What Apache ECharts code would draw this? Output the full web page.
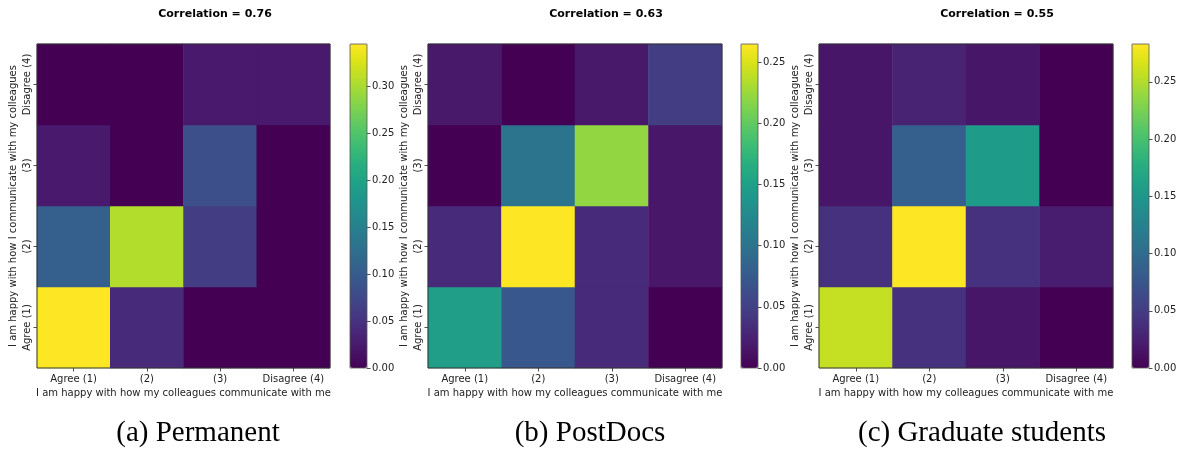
<!DOCTYPE html>
<html>
<head>
<meta charset="utf-8">
<script src="https://cdn.jsdelivr.net/npm/echarts@6/dist/echarts.min.js"></script>
<style>
html,body{margin:0;padding:0;background:#fff;}
#chart{width:1180px;height:450px;}
</style>
</head>
<body>
<div id="chart"></div>
<script>
// ---- data ----
const xCategories = ['Agree (1)', '(2)', '(3)', 'Disagree (4)'];
const yCategories = ['Agree (1)', '(2)', '(3)', 'Disagree (4)'];
const xAxisName = 'I am happy with how my colleagues communicate with me';
const yAxisName = 'I am happy with how I communicate with my colleagues';
const panelTitles = ['Correlation = 0.76', 'Correlation = 0.63', 'Correlation = 0.55'];
const captions = ['(a) Permanent', '(b) PostDocs', '(c) Graduate students'];
// rows: y category from bottom (Agree (1)) to top (Disagree (4)); columns: x categories
const permanent = [
  [0.345, 0.041, 0.000, 0.000],
  [0.104, 0.305, 0.062, 0.000],
  [0.024, 0.000, 0.083, 0.000],
  [0.000, 0.000, 0.024, 0.024]
];
const postdocs = [
  [0.148, 0.072, 0.032, 0.000],
  [0.032, 0.265, 0.032, 0.016],
  [0.000, 0.100, 0.222, 0.016],
  [0.018, 0.000, 0.018, 0.048]
];
const graduates = [
  [0.258, 0.040, 0.017, 0.000],
  [0.040, 0.283, 0.040, 0.023],
  [0.017, 0.085, 0.156, 0.000],
  [0.017, 0.028, 0.017, 0.000]
];
const colorbarTicksA = [0.00, 0.05, 0.10, 0.15, 0.20, 0.25, 0.30];
const colorbarTicksB = [0.00, 0.05, 0.10, 0.15, 0.20, 0.25];
const colorbarTicksC = [0.00, 0.05, 0.10, 0.15, 0.20, 0.25];

// ---- layout / style ----
const panels = [permanent, postdocs, graduates];
const colorbarTicks = [colorbarTicksA, colorbarTicksB, colorbarTicksC];
const heatLeft = [37, 428, 819];
const heatWidth = [293, 294, 294];
const cbLeft = [350, 741, 1132];
const cbWidth = 17;
const gTop = 44, gHeight = 324;
const titleX = [215, 606, 997];
const captionX = [198, 590, 982];
const viridis = ['#440154','#481467','#482576','#453781','#404688','#39558c','#33638d','#2d718e',
  '#287d8e','#238a8d','#1f968b','#20a386','#29af7f','#3dbc74','#56c667','#75d054','#95d840',
  '#bade28','#dde318','#fde725'];
const txt = '#222';
const font = 'DejaVu Sans';

const grid = [], xAxis = [], yAxis = [], series = [], visualMap = [], graphic = [];
panels.forEach((m, p) => {
  const maxV = Math.max(...m.flat());
  grid.push({left: heatLeft[p], top: gTop, width: heatWidth[p], height: gHeight,
    show: true, borderColor: '#333', borderWidth: 1, backgroundColor: 'transparent', z: 5});
  xAxis.push({type: 'category', gridIndex: grid.length - 1, data: xCategories,
    name: xAxisName, nameLocation: 'middle', nameGap: 20,
    nameTextStyle: {fontFamily: font, fontSize: 10, color: txt},
    axisLine: {show: false}, splitLine: {show: false},
    axisTick: {show: true, alignWithLabel: true, length: 3.5, lineStyle: {color: txt, width: 0.8}},
    axisLabel: {fontFamily: font, fontSize: 10, color: txt, margin: 6, interval: 0}});
  yAxis.push({type: 'category', gridIndex: grid.length - 1, data: yCategories,
    name: yAxisName, nameLocation: 'middle', nameGap: 19, nameRotate: 90,
    nameTextStyle: {fontFamily: font, fontSize: 10, color: txt},
    axisLine: {show: false}, splitLine: {show: false},
    axisTick: {show: true, alignWithLabel: true, length: 3.5, lineStyle: {color: txt, width: 0.8}},
    axisLabel: {fontFamily: font, fontSize: 10, color: txt, rotate: 90, margin: 5, interval: 0}});
  const data = [];
  m.forEach((row, yi) => row.forEach((v, xi) => data.push([xi, yi, v])));
  series.push({type: 'heatmap', xAxisIndex: xAxis.length - 1, yAxisIndex: yAxis.length - 1,
    data: data, itemStyle: {borderWidth: 0}, emphasis: {disabled: true}, progressive: 0});
  visualMap.push({type: 'continuous', min: 0, max: maxV, seriesIndex: series.length - 1,
    calculable: false, realtime: false, orient: 'vertical', left: cbLeft[p], top: gTop,
    itemWidth: cbWidth, itemHeight: gHeight, padding: 0, text: null, showLabel: false,
    hoverLink: false, inRange: {color: viridis}, z: 3});
  grid.push({left: cbLeft[p], top: gTop, width: cbWidth, height: gHeight,
    show: true, borderColor: '#555', borderWidth: 0.8, backgroundColor: 'transparent', z: 6});
  xAxis.push({type: 'category', gridIndex: grid.length - 1, data: ['c'], show: false});
  const ticks = colorbarTicks[p];
  yAxis.push({type: 'value', gridIndex: grid.length - 1, position: 'right', min: 0, max: maxV,
    splitLine: {show: false}, axisLine: {show: false},
    axisTick: {show: true, length: 3.5, lineStyle: {color: txt, width: 0.8}, customValues: ticks},
    axisLabel: {fontFamily: font, fontSize: 10, color: txt, margin: 5, customValues: ticks,
      formatter: v => v.toFixed(2)}});
  series.push({type: 'line', xAxisIndex: xAxis.length - 1, yAxisIndex: yAxis.length - 1,
    data: [], silent: true});
  graphic.push({type: 'text', x: titleX[p], y: 14, silent: true,
    style: {text: panelTitles[p], fontFamily: font, fontWeight: 'bold', fontSize: 11,
      fill: '#000', align: 'center', verticalAlign: 'middle'}});
  graphic.push({type: 'text', x: captionX[p], y: 433, silent: true,
    style: {text: captions[p], fontFamily: 'Liberation Serif', fontSize: 29,
      fill: '#000', align: 'center', verticalAlign: 'middle'}});
});

const chart = echarts.init(document.getElementById('chart'), null, {renderer: 'canvas'});
chart.setOption({animation: false, backgroundColor: '#fff', grid, xAxis, yAxis, series, visualMap, graphic});
</script>
</body>
</html>
